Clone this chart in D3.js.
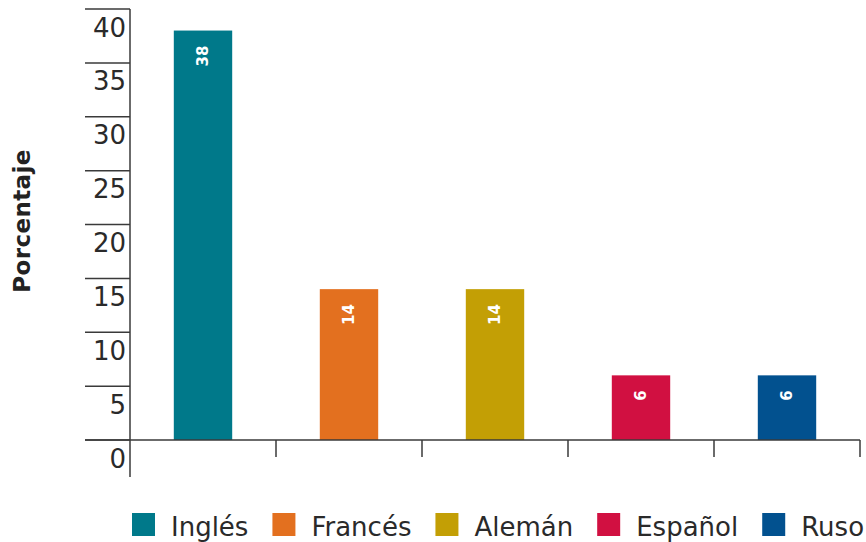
<!DOCTYPE html>
<html><head><meta charset="utf-8">
<script src="https://cdn.jsdelivr.net/npm/d3@7"></script>
<style>
html,body{margin:0;padding:0;background:#fff;}
text{font-family:"DejaVu Sans",Verdana,sans-serif;}
</style></head>
<body><svg id="c" width="866" height="542"></svg>
<script>
const categories = ["Inglés","Francés","Alemán","Español","Ruso"];
const values = [38,14,14,6,6];
const colors = ["#00798A","#E3701F","#C39F05","#D11041","#02518F"];
const yTicks = [0,5,10,15,20,25,30,35,40];
const yTitle = "Porcentaje";

const svg = d3.select("#c");
const x0 = 130, x1 = 860, yBot = 440, yTop = 9;
const x = d3.scaleBand().domain(categories).range([x0,x1]).paddingInner(0.6).paddingOuter(0.3);
const y = d3.scaleLinear().domain([0,40]).range([yBot,yTop]);
const axisColor = "#3a3a3a";

// y tick lines and labels
const yt = svg.append("g");
yTicks.forEach(t=>{
  yt.append("line").attr("x1",85).attr("x2",x0).attr("y1",y(t)).attr("y2",y(t))
    .attr("stroke",axisColor).attr("stroke-width",1.5);
  yt.append("text").attr("x",126).attr("y",y(t)+27.5).attr("text-anchor","end")
    .attr("font-size",26).attr("fill","#2a2a2a").text(t);
});

// bars
svg.append("g").selectAll("rect").data(values).join("rect")
  .attr("x",(d,i)=>x(categories[i])).attr("width",x.bandwidth())
  .attr("y",d=>y(d)).attr("height",d=>y(0)-y(d))
  .attr("fill",(d,i)=>colors[i]);

// bar labels
svg.append("g").selectAll("text").data(values).join("text")
  .attr("transform",(d,i)=>`translate(${x(categories[i])+x.bandwidth()/2},${y(d)+15}) rotate(-90)`)
  .attr("text-anchor","end").attr("dy","0.35em")
  .attr("font-size",15).attr("font-weight","bold").attr("fill","#fff").text(d=>d);

// x axis baseline
svg.append("line").attr("x1",85).attr("x2",x1).attr("y1",yBot).attr("y2",yBot)
  .attr("stroke",axisColor).attr("stroke-width",1.5);
// x ticks at band boundaries
const step = x.step();
categories.forEach((c,i)=>{
  const xx = x0 + step*(i+1);
  svg.append("line").attr("x1",xx).attr("x2",xx).attr("y1",yBot).attr("y2",457)
    .attr("stroke",axisColor).attr("stroke-width",1.5);
});
// y axis line
svg.append("line").attr("x1",x0).attr("x2",x0).attr("y1",yTop).attr("y2",477)
  .attr("stroke",axisColor).attr("stroke-width",1.5);

// y title
svg.append("text").attr("transform","translate(22,221) rotate(-90)")
  .attr("text-anchor","middle").attr("dy","0.35em")
  .attr("font-size",23).attr("letter-spacing",0.4).attr("font-weight","bold").attr("fill","#222").text(yTitle);

// legend
let lx = 132;
const lg = svg.append("g");
categories.forEach((c,i)=>{
  lg.append("rect").attr("x",lx).attr("y",513).attr("width",23).attr("height",23).attr("fill",colors[i]);
  const t = lg.append("text").attr("x",lx+39).attr("y",536).attr("font-size",26).attr("fill","#2a2a2a").text(c);
  lx = lx + 39 + t.node().getComputedTextLength() + 24;
});
</script></body></html>
